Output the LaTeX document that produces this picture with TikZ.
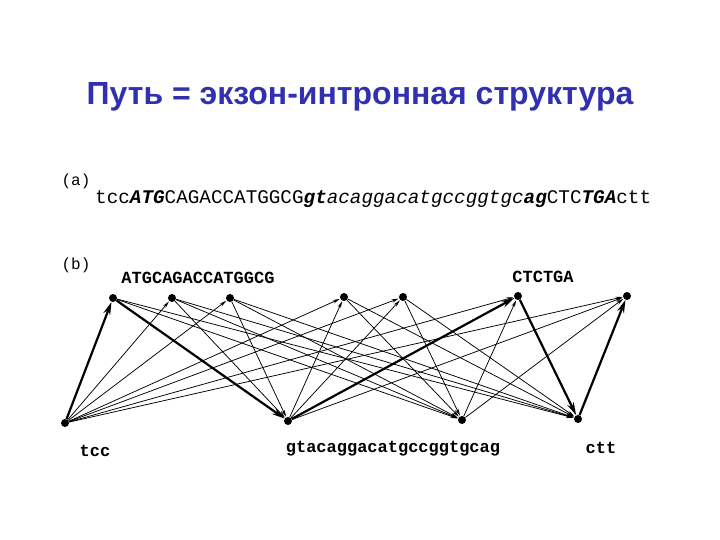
\documentclass[tikz,border=0pt]{standalone}
\usepackage{fontspec}
\setmainfont{Liberation Sans}
\setmonofont{Liberation Mono}
\usetikzlibrary{positioning,arrows.meta}

\definecolor{titleblue}{RGB}{48,48,176}

\tikzset{
  vtx/.style={circle, fill=black, inner sep=0pt, minimum size=8pt},
  thin arc/.style={line width=0.75pt, -{Stealth[length=7pt,width=3.5pt]}, shorten >=0.5pt},
  thick arc/.style={line width=2.2pt, -{Stealth[length=13pt,width=7pt]}},
  seqlabel/.style={font=\fontsize{17}{17}\selectfont\ttfamily\bfseries}
}

\begin{document}
\begin{tikzpicture}[x=1pt,y=-1pt]

\useasboundingbox (0,0) rectangle (720,540);

\node (title) at (360,97) {\fontsize{32}{32}\selectfont\bfseries\color{titleblue}Путь = экзон-интронная структура};

\node (a) at (76,181) {\fontsize{16}{16}\selectfont\ttfamily (a)};
\node[anchor=west, inner sep=0pt] (seq) at (95,199) {\fontsize{19.3}{19.3}\selectfont\ttfamily tcc\textbf{\textit{ATG}}CAGACCATGGCG\textbf{\textit{gt}}\textit{acaggacatgccggtgc}\textbf{\textit{ag}}CTC\textbf{\textit{TGA}}ctt};
\node (b) at (76,265) {\fontsize{16}{16}\selectfont\ttfamily (b)};

% exon vertices (top row)
\node[vtx] (t1) at (113,298) {};
\node[vtx] (t2) at (172,298) {};
\node[vtx] (t3) at (230,298) {};
\node[vtx] (t4) at (344,297) {};
\node[vtx] (t5) at (403,297) {};
\node[vtx] (t6) at (518,296) {};
\node[vtx] (t7) at (627,296) {};

% intron vertices (bottom row)
\node[vtx] (b1) at (65,423) {};
\node[vtx] (b2) at (288,421) {};
\node[vtx] (b3) at (462,420) {};
\node[vtx] (b4) at (578,419) {};

\node[seqlabel] (l1) at (198,278) {ATGCAGACCATGGCG};
\node[seqlabel] (l2) at (543,277) {CTCTGA};
\node[seqlabel] (l3) at (95,451) {tcc};
\node[seqlabel] (l4) at (393,449) {gtacaggacatgccggtgcag};
\node[seqlabel] (l5) at (601,448) {ctt};

% Draw thin arcs
\draw[thin arc] (b1) -- (t2);
\draw[thin arc] (b1) -- (t3);
\draw[thin arc] (b1) -- (t4);
\draw[thin arc] (b1) -- (t5);
\draw[thin arc] (b1) -- (t6);
\draw[thin arc] (b1) -- (t7);

\draw[thin arc] (t1) -- (b3);
\draw[thin arc] (t1) -- (b4);
\draw[thin arc] (t2) -- (b2);
\draw[thin arc] (t2) -- (b3);
\draw[thin arc] (t2) -- (b4);
\draw[thin arc] (t3) -- (b2);
\draw[thin arc] (t3) -- (b3);
\draw[thin arc] (t3) -- (b4);
\draw[thin arc] (t4) -- (b3);
\draw[thin arc] (t4) -- (b4);
\draw[thin arc] (t5) -- (b3);
\draw[thin arc] (t5) -- (b4);

\draw[thin arc] (b2) -- (t4);
\draw[thin arc] (b2) -- (t5);
\draw[thin arc] (b2) -- (t7);
\draw[thin arc] (b3) -- (t6);
\draw[thin arc] (b3) -- (t7);

% Draw the path (thick arcs)
\draw[thick arc] (b1) -- (t1);
\draw[thick arc] (t1) -- (b2);
\draw[thick arc] (b2) -- (t6);
\draw[thick arc] (t6) -- (b4);
\draw[thick arc] (b4) -- (t7);

\end{tikzpicture}
\end{document}
